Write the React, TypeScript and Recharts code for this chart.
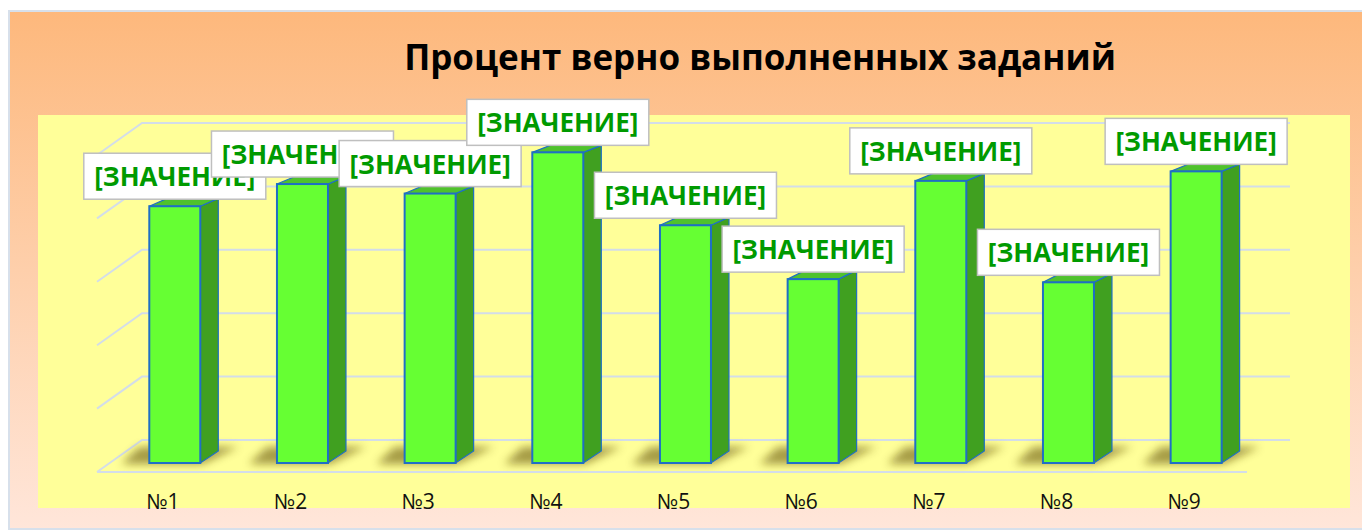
import React from 'react';
import { BarChart, Bar, XAxis, YAxis, CartesianGrid, LabelList, ReferenceLine } from 'recharts';

const tasks = ['№1', '№2', '№3', '№4', '№5', '№6', '№7', '№8', '№9'];
const percent = [81, 88, 85, 98, 75, 58, 89, 57, 92];
const gridTicks = [0, 20, 40, 60, 80, 100];
const labelText = '[ЗНАЧЕНИЕ]';
const title = 'Процент верно выполненных заданий';

const data = tasks.map((name, i) => ({ name, value: percent[i] }));

const FONT = '"Open Sans", "Noto Sans", sans-serif';
const DEPTH_X = 18;
const GRID = '#D3DDE9';
const EDGE = '#1F6FC5';

// 3d column: shadow, side, top, then front face
const Column3D = (props: any) => {
  const { x, y, width, height } = props;
  if (!height) return null;
  const base = y + height;
  const right = x + width;
  const dTop = 12 - (5 * height) / 310;
  const dBot = 12;
  return (
    <g>
      <polygon
        points={`${x - 28},${base + 1} ${right + 2},${base + 1} ${right + DEPTH_X + 20},${base - dBot - 4} ${x - 10},${base - dBot - 4}`}
        fill="#6b5a10"
        opacity={0.6}
        filter="url(#floorShadow)"
      />
      <polygon
        points={`${right},${y} ${right + DEPTH_X},${y - dTop} ${right + DEPTH_X},${base - dBot} ${right},${base}`}
        fill="#40A020"
        stroke={EDGE}
        strokeWidth={1.2}
      />
      <polygon
        points={`${x},${y} ${x + DEPTH_X},${y - dTop} ${right + DEPTH_X},${y - dTop} ${right},${y}`}
        fill="#4FC22C"
        stroke={EDGE}
        strokeWidth={1.2}
      />
      <rect x={x} y={y} width={width} height={height} fill="#66FF33" stroke={EDGE} strokeWidth={2} />
    </g>
  );
};

const ValueTag = (props: any) => {
  const { x, y, width } = props;
  const cx = x + width / 2;
  const w = 182;
  const h = 46;
  const bottom = y - 7;
  return (
    <g>
      <rect x={cx - w / 2} y={bottom - h} width={w} height={h} fill="#ffffff" stroke="#BFBFBF" strokeWidth={1.5} />
      <text
        x={cx}
        y={bottom - h / 2}
        textAnchor="middle"
        dominantBaseline="central"
        fill="#009A00"
        fontFamily={FONT}
        fontWeight={700}
        fontSize={26}
      >
        {labelText}
      </text>
    </g>
  );
};

const TaskTick = (props: any) => {
  const { x, y, payload } = props;
  return (
    <text x={x - 12} y={y + 46} textAnchor="middle" fontFamily={FONT} fontSize={21} fill="#111">
      {payload.value}
    </text>
  );
};

// back wall line + left wall diagonal
const WallLine = (props: any) => {
  const { x1, x2, y1 } = props;
  const back = y1 - 23;
  const front = y1 + 9;
  return (
    <polyline
      key={props.key}
      points={`${x1 - 14},${front} ${x1 + 31},${back} ${x2 + 30},${back}`}
      fill="none"
      stroke={GRID}
      strokeWidth={2}
    />
  );
};

const FloorEdge = (props: any) => {
  const { x1, x2, y1 } = props;
  return <line x1={x1 - 14} y1={y1 + 9} x2={x2 - 13} y2={y1 + 9} stroke={GRID} strokeWidth={2} />;
};

export default function App() {
  return (
    <div style={{ paddingTop: 2 }}>
      <svg width={0} height={0} style={{ position: 'absolute' }}>
        <defs>
          <filter id="floorShadow" x="-50%" y="-100%" width="200%" height="300%">
            <feGaussianBlur stdDeviation="4" />
          </filter>
        </defs>
      </svg>
      <div
        style={{
          position: 'relative',
          width: 1362,
          height: 520,
          overflow: 'hidden',
          background: 'linear-gradient(to bottom, #FDB87C 0%, #FFE6DA 100%)',
          boxShadow: 'inset 0 0 0 2px #D7E0EB',
        }}
      >
        <div
          style={{
            position: 'absolute',
            left: 30,
            top: 105,
            width: 1312,
            height: 393,
            background: '#FFFF99',
          }}
        />
        <div
          style={{
            position: 'absolute',
            left: 752,
            top: 29,
            transform: 'translateX(-50%)',
            whiteSpace: 'nowrap',
            fontFamily: FONT,
            fontWeight: 700,
            fontSize: 35,
            lineHeight: '35px',
            color: '#000',
          }}
        >
          {title}
        </div>
        <div style={{ position: 'absolute', left: 0, top: 0 }}>
          <BarChart
            width={1362}
            height={520}
            data={data}
            margin={{ top: 136, right: 110, left: 103, bottom: 37 }}
            barCategoryGap="30%"
            style={{ overflow: 'visible' }}
          >
            <CartesianGrid vertical={false} horizontal={WallLine} />
            <XAxis
              dataKey="name"
              height={30}
              interval={0}
              tickLine={false}
              axisLine={false}
              tickSize={0}
              tickMargin={0}
              tick={TaskTick}
            />
            <YAxis hide type="number" domain={[0, 100]} ticks={gridTicks} />
            <ReferenceLine y={0} ifOverflow="visible" shape={FloorEdge} />
            <Bar dataKey="value" shape={Column3D} isAnimationActive={false}>
              <LabelList dataKey="value" content={ValueTag} />
            </Bar>
          </BarChart>
        </div>
      </div>
    </div>
  );
}
